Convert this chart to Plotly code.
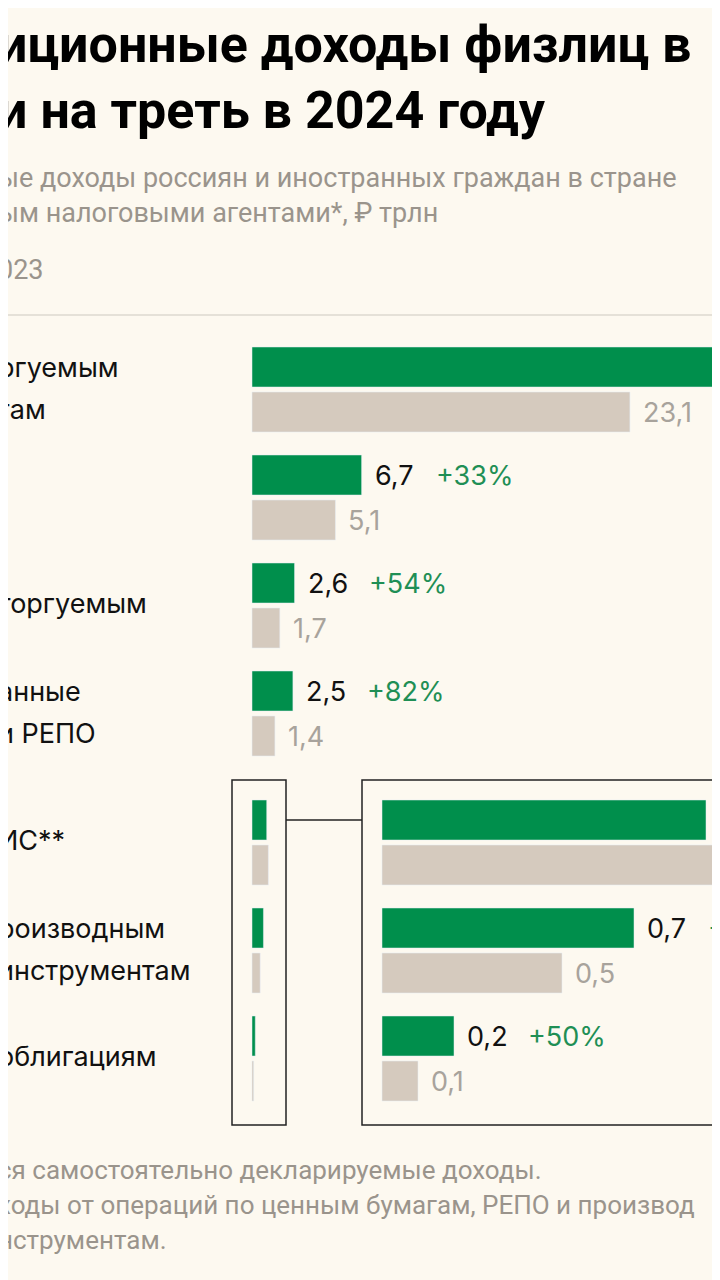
import plotly.graph_objects as go

# data
categories = ["торгуемым", "прочие", "неторгуемым", "РЕПО", "ИИС", "производные", "облигации"]
v2024 = [30.9, 6.7, 2.6, 2.5, 0.9, 0.7, 0.2]
v2023 = [23.1, 5.1, 1.7, 1.4, 1.0, 0.5, 0.1]
growth = ["+34%", "+33%", "+54%", "+82%", "-10%", "+40%", "+50%"]
labels = [("ргуемым", "гам"), ("", ""), ("торгуемым", ""), ("анные", "и РЕПО"),
          ("ИС**", ""), ("роизводным", "инструментам"), ("облигациям", "")]

GREEN = "#008f4c"; BEIGE = "#d5cabe"; BG = "#fdf9f0"
OFF = 8
W, H = 720 - OFF, 1280 - OFF
SC = 16.36          # px per unit main
SCI = 360.0         # px per unit inset
X0, XI0 = 252 - OFF, 382 - OFF

def ypos(i):
    return 367 - OFF + i * 108 + (21 if i >= 4 else 0)

fig = go.Figure()
main = range(4); inset = range(4, 7)
gy = [ypos(i) for i in range(7)]
by = [ypos(i) + 45 for i in range(7)]
fig.add_bar(y=[gy[i] for i in main], x=[v2024[i] for i in main], orientation="h",
            marker_color=GREEN, width=40, xaxis="x", yaxis="y")
fig.add_bar(y=[by[i] for i in main], x=[v2023[i] for i in main], orientation="h",
            marker_color=BEIGE, width=40, xaxis="x", yaxis="y")
fig.add_bar(y=[gy[i] for i in inset], x=[v2024[i] for i in inset], orientation="h",
            marker_color=GREEN, width=40, xaxis="x", yaxis="y")
fig.add_bar(y=[by[i] for i in inset], x=[v2023[i] for i in inset], orientation="h",
            marker_color=BEIGE, width=40, xaxis="x", yaxis="y")
fig.add_bar(y=[gy[i] for i in inset], x=[v2024[i] for i in inset], orientation="h",
            marker_color=GREEN, width=40, xaxis="x2", yaxis="y")
fig.add_bar(y=[by[i] for i in inset], x=[v2023[i] for i in inset], orientation="h",
            marker_color=BEIGE, width=40, xaxis="x2", yaxis="y")

FONT = "Inter"
def fmt(v):
    return f"{v:.1f}".replace(".", ",")

for i in range(7):
    xr = "x" if i < 4 else "x2"
    fig.add_annotation(x=v2024[i], y=gy[i], xref=xr, yref="y", text=fmt(v2024[i]),
                       xanchor="left", xshift=11, showarrow=False,
                       font=dict(family=FONT, size=27, color="#111"))
    fig.add_annotation(x=v2024[i], y=gy[i], xref=xr, yref="y", text=growth[i],
                       xanchor="left", xshift=72, showarrow=False,
                       font=dict(family=FONT, size=27, color="#1f8f55"))
    fig.add_annotation(x=v2023[i], y=by[i], xref=xr, yref="y", text=fmt(v2023[i]),
                       xanchor="left", xshift=11, showarrow=False,
                       font=dict(family=FONT, size=27, color="#a8a39c"))
    l1, l2 = labels[i]
    if l1:
        fig.add_annotation(x=0, y=gy[i] + (0 if l2 else 20), xref="paper", yref="y", text=l1,
                           xanchor="left", showarrow=False, xshift=-12,
                           font=dict(family=FONT, size=27, color="#111"))
    if l2:
        fig.add_annotation(x=0, y=gy[i] + 42, xref="paper", yref="y", text=l2,
                           xanchor="left", showarrow=False, xshift=-12,
                           font=dict(family=FONT, size=27, color="#111"))

def P(px, py):
    return (px - OFF) / W, 1 - (py - OFF) / H

texts = [
    (0, 45, "иционные доходы физлиц в", 52, "#000", "Roboto", True),
    (0, 110, "и на треть в 2024 году", 52, "#000", "Roboto", True),
    (0, 178, "ые доходы россиян и иностранных граждан в стране", 27, "#9a948c", "Roboto", False),
    (0, 213, "ым налоговыми агентами*, ₽ трлн", 27, "#9a948c", "Roboto", False),
    (0, 270, "023", 27, "#9a948c", "Roboto", False),
    (0, 1170, "ся самостоятельно декларируемые доходы.", 26, "#9a948c", "Roboto", False),
    (0, 1205, "ходы от операций по ценным бумагам, РЕПО и производ", 26, "#9a948c", "Roboto", False),
    (0, 1240, "нструментам.", 26, "#9a948c", "Roboto", False),
]
for px, py, t, s, c, f, b in texts:
    x, y = P(px, py)
    fig.add_annotation(x=x, y=y, xref="paper", yref="paper", text=f"<b>{t}</b>" if b else t,
                       xanchor="left", yanchor="middle", showarrow=False, xshift=-4,
                       font=dict(family=f, size=s, color=c))

shapes = []
def rect(x0, y0, x1, y1):
    a, b_ = P(x0, y0); c, d = P(x1, y1)
    shapes.append(dict(type="rect", xref="paper", yref="paper", x0=a, y0=d, x1=c, y1=b_,
                       line=dict(color="#222", width=1.5)))
def line(x0, y0, x1, y1, col="#222", w=1.5):
    a, b_ = P(x0, y0); c, d = P(x1, y1)
    shapes.append(dict(type="line", xref="paper", yref="paper", x0=a, y0=b_, x1=c, y1=d,
                       line=dict(color=col, width=w)))
rect(232, 780, 286, 1125)
rect(362, 780, 730, 1125)
line(286, 820, 362, 820)
line(0, 315, 720, 315, "#dcd8d0", 1.5)

fig.update_layout(
    width=W, height=H, margin=dict(l=0, r=0, t=0, b=0), paper_bgcolor=BG, plot_bgcolor=BG,
    showlegend=False, barmode="overlay", shapes=shapes,
    xaxis=dict(range=[-X0 / SC, (W - X0) / SC], visible=False, fixedrange=True),
    xaxis2=dict(range=[-XI0 / SCI, (W - XI0) / SCI], overlaying="x", visible=False),
    yaxis=dict(range=[H, 0], visible=False),
)
fig.write_html("out.html")
